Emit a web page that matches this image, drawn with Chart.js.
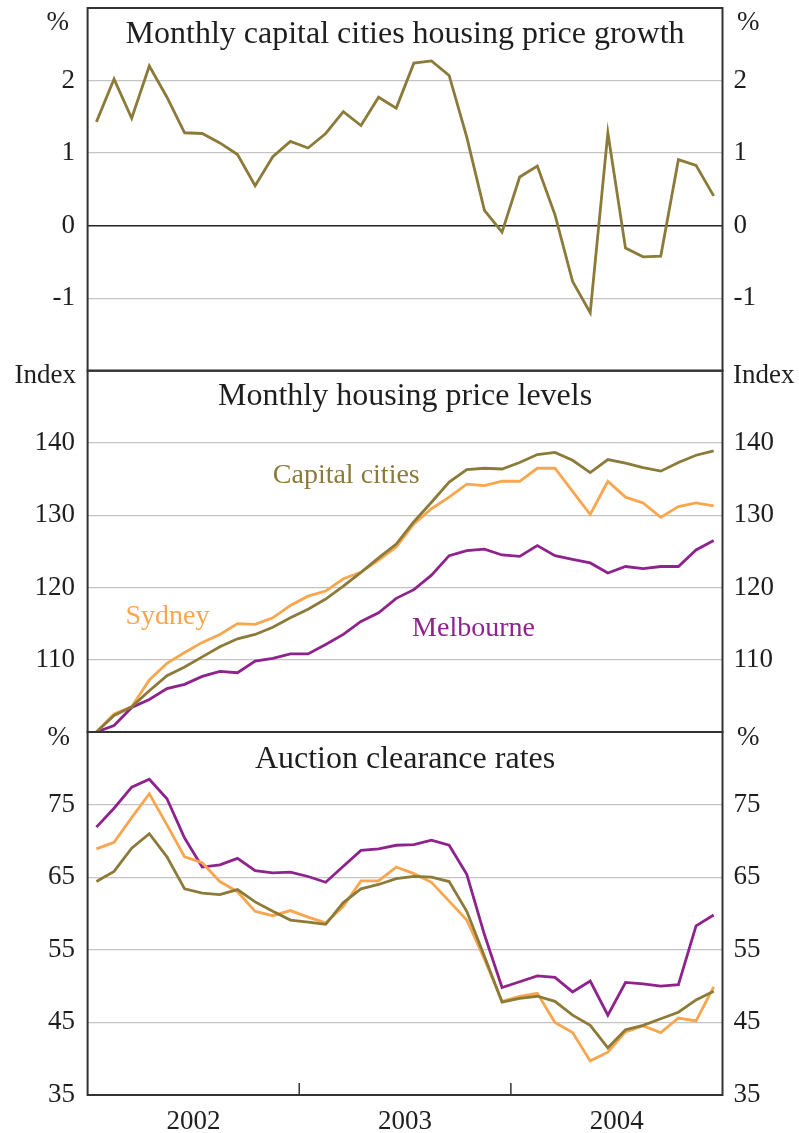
<!DOCTYPE html>
<html>
<head>
<meta charset="utf-8">
<script src="https://cdn.jsdelivr.net/npm/chart.js@4"></script>
<style>
html, body { margin: 0; padding: 0; background: #fff; }
#wrap { position: relative; width: 799px; height: 1133px; }
#wrap canvas { position: absolute; left: 0; top: 0; }
</style>
</head>
<body>
<div id="wrap">
  <canvas id="growth" width="799" height="1133"></canvas>
  <canvas id="levels" width="799" height="1133"></canvas>
  <canvas id="auctions" width="799" height="1133"></canvas>
</div>
<script>
// months Jan 2002 .. Dec 2004
var monthNames = ['Jan', 'Feb', 'Mar', 'Apr', 'May', 'Jun', 'Jul', 'Aug', 'Sep', 'Oct', 'Nov', 'Dec'];
var years = ['2002', '2003', '2004'];
var months = [];
years.forEach(function (y) { monthNames.forEach(function (m) { months.push(m + ' ' + y); }); });

// year label positions (middle of each year) and year boundaries
var yearTicks = [5.5, 17.5, 29.5];
var yearBounds = [11.5, 23.5];

// monthly capital cities price growth, %
var growthCapital = [1.43, 2.02, 1.48, 2.20, 1.77, 1.28, 1.27, 1.14, 0.98, 0.55, 0.95, 1.16,
                     1.07, 1.27, 1.57, 1.38, 1.77, 1.62, 2.24, 2.27, 2.07, 1.22, 0.21, -0.09,
                     0.67, 0.82, 0.15, -0.77, -1.20, 1.28, -0.31, -0.43, -0.42, 0.91, 0.83, 0.41];

// price levels, index
var levelCapital = [100, 102.3, 103.5, 105.7, 107.8, 109.0, 110.4, 111.8, 112.9, 113.5, 114.5, 115.8,
                    117.0, 118.4, 120.2, 122.1, 124.1, 126.0, 129.1, 131.8, 134.6, 136.3, 136.5, 136.4,
                    137.3, 138.4, 138.7, 137.6, 135.9, 137.7, 137.2, 136.6, 136.1, 137.3, 138.3, 138.9];
var levelSydney = [100, 102.5, 103.5, 107.2, 109.5, 111.0, 112.4, 113.5, 115.0, 114.9, 115.8, 117.5,
                   118.8, 119.5, 121.2, 122.1, 123.8, 125.6, 128.8, 130.9, 132.5, 134.3, 134.1, 134.7,
                   134.7, 136.5, 136.5, 133.3, 130.1, 134.7, 132.5, 131.7, 129.7, 131.2, 131.7, 131.3];
var levelMelbourne = [100, 100.9, 103.4, 104.5, 106.0, 106.6, 107.7, 108.4, 108.2, 109.8, 110.2, 110.8,
                      110.8, 112.1, 113.5, 115.3, 116.5, 118.5, 119.7, 121.7, 124.4, 125.1, 125.3, 124.5,
                      124.3, 125.8, 124.4, 123.9, 123.4, 122.0, 122.9, 122.6, 122.9, 122.9, 125.2, 126.5];

// auction clearance rates, %
var auctionCapital = [64.4, 65.8, 69.0, 71.0, 67.8, 63.4, 62.8, 62.6, 63.3, 61.6, 60.3, 59.1,
                      58.8, 58.5, 61.5, 63.4, 64.0, 64.8, 65.1, 65.0, 64.4, 60.3, 54.1, 47.8,
                      48.3, 48.6, 47.9, 46.0, 44.6, 41.5, 44.0, 44.6, 45.5, 46.4, 48.1, 49.3];
var auctionSydney = [68.9, 69.8, 73.2, 76.5, 72.2, 67.8, 67.0, 64.4, 63.0, 60.3, 59.7, 60.4,
                     59.5, 58.7, 61.0, 64.5, 64.5, 66.4, 65.5, 64.3, 61.7, 59.1, 53.7, 47.9,
                     48.6, 49.0, 45.0, 43.6, 39.7, 40.9, 43.7, 44.5, 43.6, 45.6, 45.2, 49.9];
var auctionMelbourne = [71.9, 74.5, 77.4, 78.5, 75.8, 70.4, 66.4, 66.7, 67.6, 65.9, 65.6, 65.7,
                        65.1, 64.3, 66.5, 68.7, 68.9, 69.4, 69.5, 70.1, 69.4, 65.4, 57.1, 49.8,
                        50.6, 51.4, 51.2, 49.2, 50.7, 46.0, 50.5, 50.3, 50.0, 50.2, 58.3, 59.8];

// tick labels of each panel
var growthTicks = [-1, 0, 1, 2];
var levelTicks = [110, 120, 130, 140];
var auctionTicks = [35, 45, 55, 65, 75];

var OLIVE = '#8c7a38', ORANGE = '#f9a64e', PURPLE = '#8e238e';
var FONT = '"Liberation Serif", "Times New Roman", serif';
var W = 799, H = 1133, LEFT = 87.6, RIGHT = 722.5;

function pts(arr) { return arr.map(function (v, i) { return { x: i, y: v }; }); }

function line(label, arr, color) {
  return { label: label, data: pts(arr), borderColor: color, borderWidth: 2.8,
           pointRadius: 0, tension: 0, fill: false };
}

// frame, titles, unit labels, series names
var decor = {
  id: 'decor',
  afterDatasetsDraw: function (chart, args, o) {
    var ctx = chart.ctx, a = chart.chartArea, sx = chart.scales.x, sy = chart.scales.y;
    ctx.save();
    ctx.strokeStyle = '#333';
    ctx.lineWidth = 2;
    ctx.strokeRect(a.left, a.top, a.right - a.left, a.bottom - a.top);
    (o.bounds || []).forEach(function (v) {
      var x = sx.getPixelForValue(v);
      ctx.lineWidth = 1.5;
      ctx.beginPath(); ctx.moveTo(x, a.bottom); ctx.lineTo(x, a.bottom - 12); ctx.stroke();
    });
    ctx.fillStyle = '#1e1e1e';
    ctx.textBaseline = 'alphabetic';
    ctx.font = '32px ' + FONT;
    ctx.textAlign = 'center';
    ctx.fillText(o.title, (a.left + a.right) / 2, a.top + o.titleY);
    ctx.font = '27px ' + FONT;
    ctx.textAlign = 'right';
    ctx.fillText(o.unit, o.unitL, a.top + o.unitY);
    ctx.textAlign = 'left';
    ctx.fillText(o.unit, o.unitR, a.top + o.unitY);
    ctx.font = '28px ' + FONT;
    (o.notes || []).forEach(function (n) {
      ctx.fillStyle = n.color;
      ctx.fillText(n.text, sx.getPixelForValue(n.x), sy.getPixelForValue(n.y));
    });
    ctx.restore();
  }
};

function panel(id, p) {
  var setTicks = function (axis) { axis.ticks = p.ticks.map(function (v) { return { value: v }; }); };
  var tickFont = { family: FONT, size: 27 };
  var xAxis = {
    type: 'linear', min: -0.5, max: 35.5, display: !!p.showX,
    grid: { display: false }, border: { display: false },
    afterBuildTicks: function (axis) { axis.ticks = yearTicks.map(function (v) { return { value: v }; }); },
    afterFit: function (axis) {
      if (!p.showX) return;
      axis.height = H - p.bottom; axis.paddingLeft = 0; axis.paddingRight = 0;
    },
    ticks: { font: tickFont, color: '#1e1e1e', padding: 3, maxRotation: 0,
             callback: function (v) { return years[yearTicks.indexOf(v)]; } }
  };
  return new Chart(document.getElementById(id), {
    type: 'line',
    data: { labels: months, datasets: p.datasets },
    options: {
      responsive: false, animation: false, events: [],
      layout: { padding: { top: p.top, bottom: p.showX ? 0 : H - p.bottom, left: 0, right: 0 } },
      plugins: { legend: { display: false }, tooltip: { enabled: false }, decor: p.decor },
      scales: {
        x: xAxis,
        y: {
          position: 'left', min: p.min, max: p.max,
          afterBuildTicks: setTicks,
          afterFit: function (axis) { axis.width = LEFT; axis.paddingTop = 0; axis.paddingBottom = 0; },
          border: { display: false },
          grid: {
            drawTicks: false,
            color: function (c) { return c.tick && c.tick.value === 0 ? '#222' : '#c4c4c4'; },
            lineWidth: function (c) { return c.tick && c.tick.value === 0 ? 1.6 : 1.2; }
          },
          ticks: { font: tickFont, color: '#1e1e1e', padding: 12.5 }
        },
        y2: {
          position: 'right', min: p.min, max: p.max,
          afterBuildTicks: setTicks,
          afterFit: function (axis) { axis.width = W - RIGHT; axis.paddingTop = 0; axis.paddingBottom = 0; },
          border: { display: false },
          grid: { display: false, drawTicks: false },
          ticks: { font: tickFont, color: '#1e1e1e', padding: 11 }
        }
      }
    },
    plugins: [decor]
  });
}

panel('growth', {
  top: 8, bottom: 370.7, min: -2, max: 3, ticks: growthTicks,
  datasets: [line('Capital cities', growthCapital, OLIVE)],
  decor: { title: 'Monthly capital cities housing price growth', titleY: 34.5,
           unit: '%', unitL: 69, unitR: 737, unitY: 22 }
});

panel('levels', {
  top: 370.7, bottom: 732, min: 100, max: 150, ticks: levelTicks,
  datasets: [line('Capital cities', levelCapital, OLIVE),
             line('Sydney', levelSydney, ORANGE),
             line('Melbourne', levelMelbourne, PURPLE)],
  decor: { title: 'Monthly housing price levels', titleY: 34.5,
           unit: 'Index', unitL: 76, unitR: 733, unitY: 12.5,
           notes: [{ text: 'Capital cities', x: 10.0, y: 134.4, color: OLIVE },
                   { text: 'Sydney', x: 1.65, y: 114.9, color: ORANGE },
                   { text: 'Melbourne', x: 17.9, y: 113.3, color: PURPLE }] }
});

panel('auctions', {
  top: 732, bottom: 1095, min: 35, max: 85, ticks: auctionTicks, showX: true,
  datasets: [line('Capital cities', auctionCapital, OLIVE),
             line('Sydney', auctionSydney, ORANGE),
             line('Melbourne', auctionMelbourne, PURPLE)],
  decor: { title: 'Auction clearance rates', titleY: 36,
           unit: '%', unitL: 70, unitR: 737, unitY: 13, bounds: yearBounds }
});
</script>
</body>
</html>
